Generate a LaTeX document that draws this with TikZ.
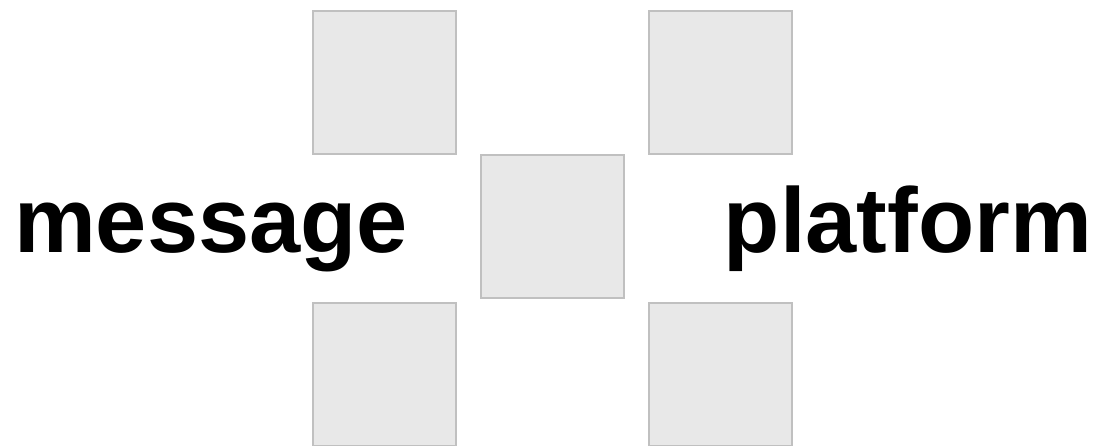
\documentclass[tikz,border=0pt]{standalone}
\usepackage{fontspec}
\setmainfont{Liberation Sans}
\usepackage{tikz}
\usetikzlibrary{positioning}
\definecolor{tileedge}{RGB}{192,192,192}
\definecolor{tilefill}{RGB}{232,232,232}

\begin{document}
\begin{tikzpicture}[
  x=1pt, y=1pt,
  tile/.style={draw=tileedge, fill=tilefill, line width=2pt, minimum size=143pt, inner sep=0pt},
  word/.style={font=\fontsize{92}{92}\selectfont\bfseries, inner sep=0pt}
]
\useasboundingbox (0,0) rectangle (1095,-446);
% tiles
\node[tile] (tl) at (384,-82.5) {};
\node[tile] (tr) at (720,-82.5) {};
\node[tile] (mid) at (552,-226.5) {};
\node[tile] (bl) at (384,-374.5) {};
\node[tile] (br) at (720,-374.5) {};
% words
\node[word, anchor=base west] (msg) at (14,-253) {message};
\node[word, anchor=base east] (plat) at (1092,-253) {platform};
\end{tikzpicture}
\end{document}
